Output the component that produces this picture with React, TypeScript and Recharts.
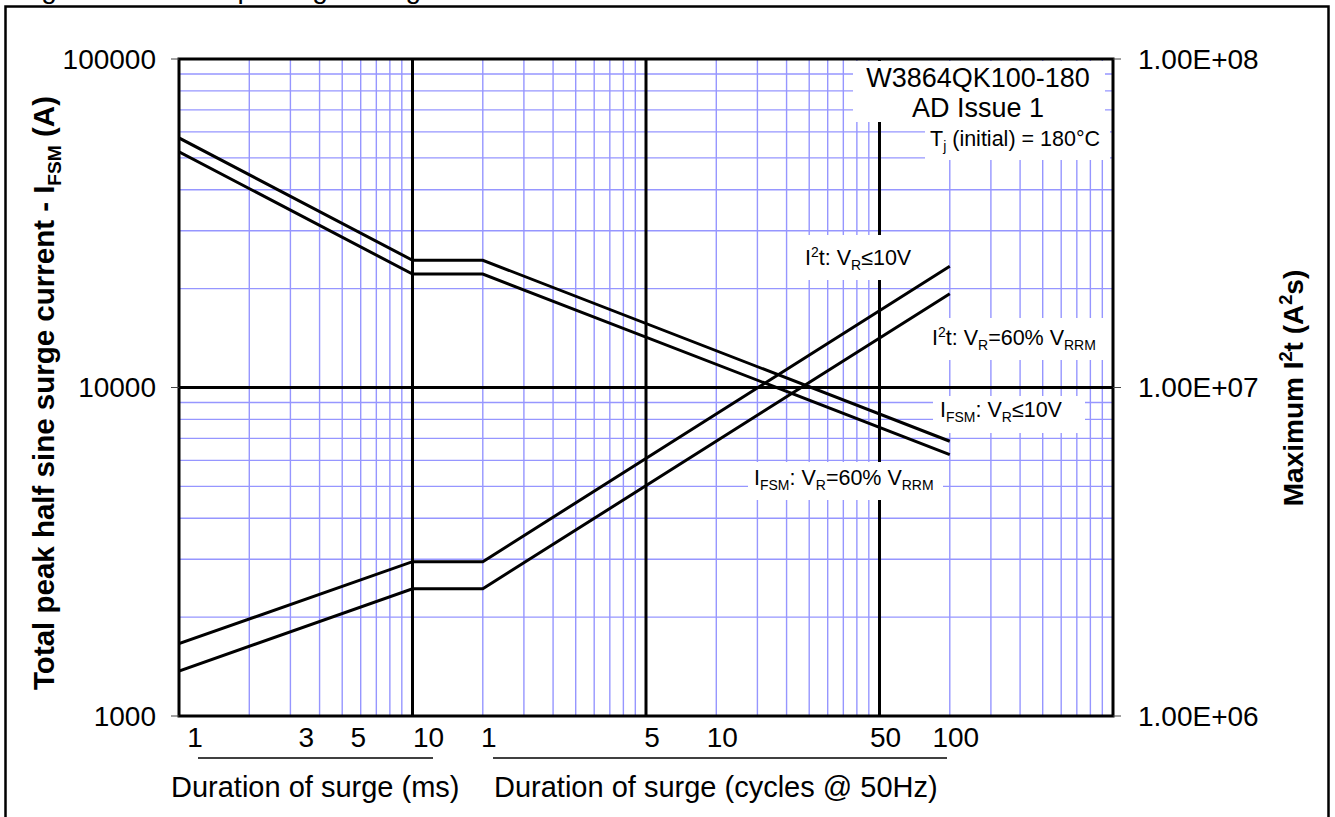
import React from 'react';
import { LineChart, Line, XAxis, YAxis, CartesianGrid, ReferenceArea } from 'recharts';

const FONT = "'Liberation Sans', Arial, Helvetica, sans-serif";

// surge duration in ms (1 cycle @ 50Hz = 20 ms)
const durationMs = [1, 10, 20, 2000];
const ifsmLowVr = [57500, 24400, 24400, 6860];
const ifsm60 = [52200, 22150, 22150, 6250];
const i2tLowVr = [1.66e6, 2.95e6, 2.95e6, 2.34e7];
const i2t60 = [1.37e6, 2.44e6, 2.44e6, 1.93e7];

const msTicks = [1, 3, 5, 10];
const cycleTicks = [1, 5, 10, 50, 100];
const leftTicks = [1000, 10000, 100000];
const rightTicks = [1e6, 1e7, 1e8];

const decadesX = [1, 10, 100, 1000];
const decadesY = [1000, 10000];
const mult = [2, 3, 4, 5, 6, 7, 8, 9];
const majorX = [10, 100, 1000];
const majorY = [10000];

const minorX = decadesX.flatMap((d) => mult.map((m) => d * m));
const minorY = decadesY.flatMap((d) => mult.map((m) => d * m));
const xTicks = [...msTicks, ...cycleTicks.map((c) => c * 20)];

const rows = (vals: number[]) => durationMs.map((t, i) => ({ t, v: vals[i] }));

const sci = (v: number) => {
  const e = Math.round(Math.log10(v));
  return `${(v / Math.pow(10, e)).toFixed(2)}E+${String(e).padStart(2, '0')}`;
};

type Part = { t: string; sub?: boolean; sup?: boolean };

const Rich = ({ x, y, parts, size, anchor = 'start', weight = 'normal', transform }: any) => {
  let shift = 0;
  return (
    <text x={x} y={y} fontSize={size} fontFamily={FONT} fontWeight={weight} textAnchor={anchor} transform={transform} fill="#000">
      {(parts as Part[]).map((p, i) => {
        const target = p.sub ? size * 0.25 : p.sup ? -size * 0.38 : 0;
        const dy = target - shift;
        shift = target;
        return (
          <tspan key={i} dy={dy} fontSize={p.sub || p.sup ? size * 0.65 : size}>
            {p.t}
          </tspan>
        );
      })}
    </text>
  );
};

const DurationTick = ({ x, y, payload }: any) => {
  const v = payload.value;
  const isMs = v <= 10;
  const label = isMs ? v : v / 20;
  return (
    <text x={x + (isMs ? 16 : 6)} y={y + 31} textAnchor="middle" fontSize={28} fontFamily={FONT} fill="#000">
      {label}
    </text>
  );
};

const Note = ({ box, x, y, parts, size = 21.5 }: any) => (
  <g>
    <rect x={box[0]} y={box[1]} width={box[2] - box[0]} height={box[3] - box[1]} fill="#fff" />
    <Rich x={x} y={y} parts={parts} size={size} />
  </g>
);

export default function App() {
  return (
    <div style={{ position: 'absolute', left: 0, top: 0, width: 1335, height: 817, overflow: 'hidden', background: '#fff' }}>
      <LineChart width={1335} height={817} margin={{ top: 59, right: 122, bottom: 41, left: 79 }}>
        <CartesianGrid
          xAxisId="x"
          yAxisId="left"
          stroke="#9696ff"
          strokeWidth={1.4}
          verticalValues={minorX}
          horizontalValues={minorY}
        />
        <CartesianGrid
          xAxisId="x"
          yAxisId="left"
          stroke="#000"
          strokeWidth={3}
          verticalValues={majorX}
          horizontalValues={majorY}
        />
        <XAxis
          xAxisId="x"
          dataKey="t"
          type="number"
          scale="log"
          domain={[1, 10000]}
          allowDataOverflow
          ticks={xTicks}
          interval={0}
          tick={<DurationTick />}
          tickLine={false}
          axisLine={false}
          tickSize={0}
          tickMargin={0}
          height={60}
        />
        <YAxis
          yAxisId="left"
          type="number"
          scale="log"
          domain={[1000, 100000]}
          allowDataOverflow
          ticks={leftTicks}
          interval={0}
          width={100}
          axisLine={false}
          tickLine={{ stroke: '#444' }}
          tickSize={8}
          tickMargin={15}
          tick={{ fontSize: 28, fill: '#000', fontFamily: FONT }}
        />
        <YAxis
          yAxisId="right"
          orientation="right"
          type="number"
          scale="log"
          domain={[1e6, 1e8]}
          allowDataOverflow
          ticks={rightTicks}
          interval={0}
          width={100}
          axisLine={false}
          tickLine={{ stroke: '#444' }}
          tickSize={8}
          tickMargin={17}
          tickFormatter={sci}
          tick={{ fontSize: 28, fill: '#000', fontFamily: FONT }}
        />
        <Line xAxisId="x" yAxisId="left" data={rows(ifsmLowVr)} dataKey="v" type="linear" stroke="#000" strokeWidth={3} dot={false} isAnimationActive={false} />
        <Line xAxisId="x" yAxisId="left" data={rows(ifsm60)} dataKey="v" type="linear" stroke="#000" strokeWidth={3} dot={false} isAnimationActive={false} />
        <Line xAxisId="x" yAxisId="right" data={rows(i2tLowVr)} dataKey="v" type="linear" stroke="#000" strokeWidth={3} dot={false} isAnimationActive={false} />
        <Line xAxisId="x" yAxisId="right" data={rows(i2t60)} dataKey="v" type="linear" stroke="#000" strokeWidth={3} dot={false} isAnimationActive={false} />
        <ReferenceArea xAxisId="x" yAxisId="left" x1={1} x2={10000} y1={1000} y2={100000} fill="none" stroke="#000" strokeWidth={3} ifOverflow="visible" />
      </LineChart>

      <svg width={1335} height={817} style={{ position: 'absolute', left: 0, top: 0, pointerEvents: 'none' }}>
        <rect x={5.5} y={6.5} width={1323} height={900} fill="none" stroke="#000" strokeWidth={2.5} />
        <text x={18} y={-2.5} fontSize={28} fontFamily={FONT} fill="#000">Figure 8 – Non-rep. Surge rating</text>

        <Rich
          x={54}
          y={393}
          size={29.5}
          weight="bold"
          anchor="middle"
          transform="rotate(-90 54 393)"
          parts={[{ t: 'Total peak half sine surge current - I' }, { t: 'FSM', sub: true }, { t: ' (A)' }]}
        />
        <Rich
          x={1303}
          y={388}
          size={28}
          weight="bold"
          anchor="middle"
          transform="rotate(-90 1303 388)"
          parts={[{ t: 'Maximum I' }, { t: '2', sup: true }, { t: 't (A' }, { t: '2', sup: true }, { t: 's)' }]}
        />

        <line x1={198} x2={433} y1={758} y2={758} stroke="#000" strokeWidth={1.5} />
        <line x1={493} x2={947} y1={758} y2={758} stroke="#000" strokeWidth={1.5} />
        <text x={171} y={797} fontSize={29} fontFamily={FONT} fill="#000">Duration of surge (ms)</text>
        <text x={494} y={797} fontSize={29} fontFamily={FONT} fill="#000">Duration of surge (cycles @ 50Hz)</text>

        <rect x={853} y={61} width={252} height={61} fill="#fff" />
        <text x={978} y={87} fontSize={27} fontFamily={FONT} textAnchor="middle" fill="#000">W3864QK100-180</text>
        <text x={978} y={117} fontSize={27} fontFamily={FONT} textAnchor="middle" fill="#000">AD Issue 1</text>
        <Note box={[925, 122, 1110, 160]} x={930} y={146} parts={[{ t: 'T' }, { t: 'j', sub: true }, { t: ' (initial) = 180°C' }]} />

        <Note box={[798, 235, 918, 280]} x={805} y={265} parts={[{ t: 'I' }, { t: '2', sup: true }, { t: 't: V' }, { t: 'R', sub: true }, { t: '≤10V' }]} />
        <Note box={[925, 318, 1110, 360]} x={932} y={345} parts={[{ t: 'I' }, { t: '2', sup: true }, { t: 't: V' }, { t: 'R', sub: true }, { t: '=60% V' }, { t: 'RRM', sub: true }]} />
        <Note box={[933, 396, 1085, 433]} x={940} y={417} parts={[{ t: 'I' }, { t: 'FSM', sub: true }, { t: ': V' }, { t: 'R', sub: true }, { t: '≤10V' }]} />
        <Note box={[748, 462, 943, 500]} x={754} y={485} parts={[{ t: 'I' }, { t: 'FSM', sub: true }, { t: ': V' }, { t: 'R', sub: true }, { t: '=60% V' }, { t: 'RRM', sub: true }]} />
      </svg>
    </div>
  );
}
